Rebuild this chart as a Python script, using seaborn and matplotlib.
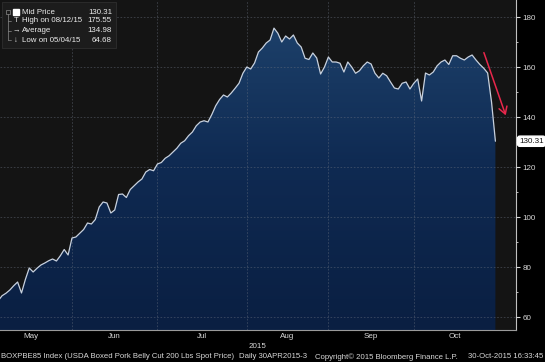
import numpy as np
import pandas as pd
import seaborn as sns
import matplotlib.pyplot as plt
import matplotlib.transforms as mtransforms
from matplotlib.colors import LinearSegmentedColormap
from matplotlib.patches import Rectangle

# datos (dias habiles 30-abr-2015 .. 30-oct-2015)
fechas = pd.bdate_range("2015-04-30", "2015-10-30")
precio = [
    66.5, 65.8, 64.68, 66.5, 68.5, 69.5, 70.8, 72.5, 74.0, 69.6,
    75.0, 79.6, 78.0, 79.5, 80.8, 81.6, 82.5, 83.2, 82.4, 84.5,
    87.0, 84.8, 91.6, 92.0, 93.5, 95.0, 97.6, 97.2, 99.0, 104.0,
    106.0, 105.6, 101.6, 102.8, 109.0, 109.2, 107.8, 111.0, 112.5, 114.0,
    115.2, 118.0, 119.0, 118.5, 121.2, 121.8, 123.5, 124.5, 126.0, 127.5,
    129.5, 130.5, 132.5, 134.0, 136.5, 138.0, 138.5, 138.0, 141.0, 144.5,
    147.0, 148.8, 148.0, 149.6, 151.5, 153.5, 157.5, 160.0, 159.2, 161.6,
    166.0, 167.6, 169.6, 170.8, 175.55, 173.5, 170.0, 172.4, 171.2, 172.8,
    169.6, 168.0, 163.5, 163.0, 165.6, 163.6, 157.2, 160.0, 164.0, 162.0,
    162.0, 161.5, 158.0, 162.0, 160.0, 157.5, 158.5, 160.5, 162.0, 161.2,
    157.5, 155.6, 157.5, 156.5, 154.0, 151.6, 151.2, 153.5, 154.0, 151.2,
    153.5, 155.2, 146.4, 157.6, 156.8, 158.0, 160.5, 162.0, 162.8, 161.0,
    164.5, 164.5, 163.5, 162.8, 164.0, 164.8, 162.8, 161.0, 159.5, 157.6,
    146.0, 130.31,
]
meses = ["May", "Jun", "Jul", "Aug", "Sep", "Oct"]
anio = "2015"
yticks = [60, 80, 100, 120, 140, 160, 180]
ley_nombres = ["Mid Price", "High on 08/12/15", "Average", "Low on 05/04/15"]
ley_valores = ["130.31", "175.55", "134.98", "64.68"]
ultimo = 130.31
pie = ["BOXPBE85 Index (USDA Boxed Pork Belly Cut 200 Lbs Spot Price)",
       "Daily 30APR2015-3",
       "Copyright\u00a9 2015 Bloomberg Finance L.P.",
       "30-Oct-2015 16:33:45"]

sns.set_style("dark")
plt.rcParams['font.family'] = ['Liberation Sans', 'DejaVu Sans']

df = pd.DataFrame({"dia": np.arange(len(fechas)), "fecha": fechas, "precio": precio})
inicio_mes = df[df.fecha.dt.month >= 5].groupby(df.fecha.dt.month).dia.min().values
ini = inicio_mes[1:]  # Jun..Oct
fin = list(inicio_mes[1:]) + [df.dia.max()]
centros = [(a + b) / 2 for a, b in zip(inicio_mes, fin)]

W, H = 545, 362
fig = plt.figure(figsize=(W / 100, H / 100), dpi=100, facecolor="black")
ax = fig.add_axes([0, 1 - 330 / H, 516 / W, 330 / H])
ax.set_facecolor("#141414")

xmin, xmax = 3.47, 136.3
ymin, ymax = 54.8, 186.8

# relleno degradado azul
cmap = LinearSegmentedColormap.from_list("azul", ["#0a1f42", "#0f2a52", "#1f446e"])
poly = ax.fill_between(df.dia, df.precio, ymin, color="none", lw=0)
img = ax.imshow(np.linspace(0, 1, 256).reshape(-1, 1), cmap=cmap, origin="lower",
                extent=[xmin, xmax, ymin, ymax], aspect="auto", zorder=1)
img.set_clip_path(poly.get_paths()[0], transform=ax.transData)

sns.lineplot(data=df, x="dia", y="precio", color="#c8d1de", lw=0.9, ax=ax, zorder=3)

ax.set_xlim(xmin, xmax)
ax.set_ylim(ymin, ymax)
ax.set_xlabel("")
ax.set_ylabel("")

# ejes
ax.yaxis.tick_right()
ax.set_yticks(yticks)
ax.set_yticks(np.arange(70, 180, 20), minor=True)
ax.tick_params(axis="y", which="major", colors="#d8d8d8", length=3, width=0.8,
               labelsize=5.8, pad=1.5)
ax.tick_params(axis="y", which="minor", color="#d8d8d8", length=1.5, width=0.6)
ax.set_xticks(ini)
ax.set_xticklabels([])
ax.set_xticks(centros, minor=True)
ax.set_xticklabels(meses, minor=True)
ax.tick_params(axis="x", which="major", direction="in", length=2, color="#9a9a9a")
ax.tick_params(axis="x", which="minor", length=0, labelsize=5.8, colors="#d8d8d8", pad=2)

ax.grid(False)
ax.set_axisbelow(False)
ax.yaxis.grid(True, which="major", color="#6a7280", alpha=0.5, lw=0.6, ls=(0, (2, 2)))
ax.xaxis.grid(True, which="major", color="#6a7280", alpha=0.5, lw=0.6, ls=(0, (2, 2)))

for s in ["left", "top"]:
    ax.spines[s].set_visible(False)
ax.spines["right"].set_color("#c0c0c0")
ax.spines["right"].set_linewidth(0.8)
ax.spines["bottom"].set_color("#9a9a9a")
ax.spines["bottom"].set_linewidth(0.8)

# etiqueta del ultimo valor
trans = mtransforms.blended_transform_factory(ax.transAxes, ax.transData)
ax.text(1.006, ultimo, f"{ultimo:.2f}", transform=trans, ha="left", va="center",
        fontsize=5.8, color="#111111", clip_on=False,
        bbox=dict(boxstyle="round,pad=0.2,rounding_size=0.3", fc="white", ec="white"))

# flecha roja
ax.annotate("", xy=(133.9, 139.6), xytext=(127.8, 166.8),
            arrowprops=dict(arrowstyle="->,head_length=0.5,head_width=0.3",
                            color="#e8274b", lw=1.1))

# leyenda estilo Bloomberg
fx = lambda px: px / W
fy = lambda py: 1 - py / H
fig.patches.append(Rectangle((fx(2), fy(48)), fx(114), 46 / H, transform=fig.transFigure,
                             fc="#1c1c1c", ec="#2e2e2e", lw=0.6, zorder=5))
filas = [12, 21, 31, 40]
fig.patches.append(Rectangle((fx(12.5), fy(15)), fx(6), 6 / H, transform=fig.transFigure,
                             fc="white", ec="white", zorder=6))
fig.patches.append(Rectangle((fx(6), fy(14)), fx(4), 4 / H, transform=fig.transFigure,
                             fc="none", ec="#8a8a8a", lw=0.5, zorder=6))
fig.lines.append(plt.Line2D([fx(8), fx(8)], [fy(14), fy(40)], transform=fig.transFigure,
                            color="#8a8a8a", lw=0.5, zorder=6))
for py in filas[1:]:
    fig.lines.append(plt.Line2D([fx(8), fx(11)], [fy(py), fy(py)], transform=fig.transFigure,
                                color="#8a8a8a", lw=0.5, zorder=6))
iconos = ["", "T", "\u2192", "\u2193"]
for py, ic, nom, val in zip(filas, iconos, ley_nombres, ley_valores):
    if ic:
        fig.text(fx(16), fy(py), ic, ha="center", va="center", fontsize=5.5,
                 color="#e0e0e0", zorder=7)
    fig.text(fx(22), fy(py), nom, ha="left", va="center", fontsize=5.7,
             color="#ececec", zorder=7)
    fig.text(fx(112), fy(py), val, ha="right", va="center", fontsize=5.7,
             color="#ececec", zorder=7)

# textos inferiores
fig.text(fx(258), fy(347), anio, ha="center", va="center", fontsize=5.8, color="#d8d8d8")
fig.text(fx(1), fy(357), pie[0], ha="left", va="center", fontsize=5.6, color="#d8d8d8")
fig.text(fx(239), fy(357), pie[1], ha="left", va="center", fontsize=5.6, color="#d8d8d8")
fig.text(fx(315), fy(357), pie[2], ha="left", va="center", fontsize=5.6, color="#d8d8d8")
fig.text(fx(543), fy(357), pie[3], ha="right", va="center", fontsize=5.6, color="#d8d8d8")

fig.savefig("out.png", dpi=100, facecolor="black")
